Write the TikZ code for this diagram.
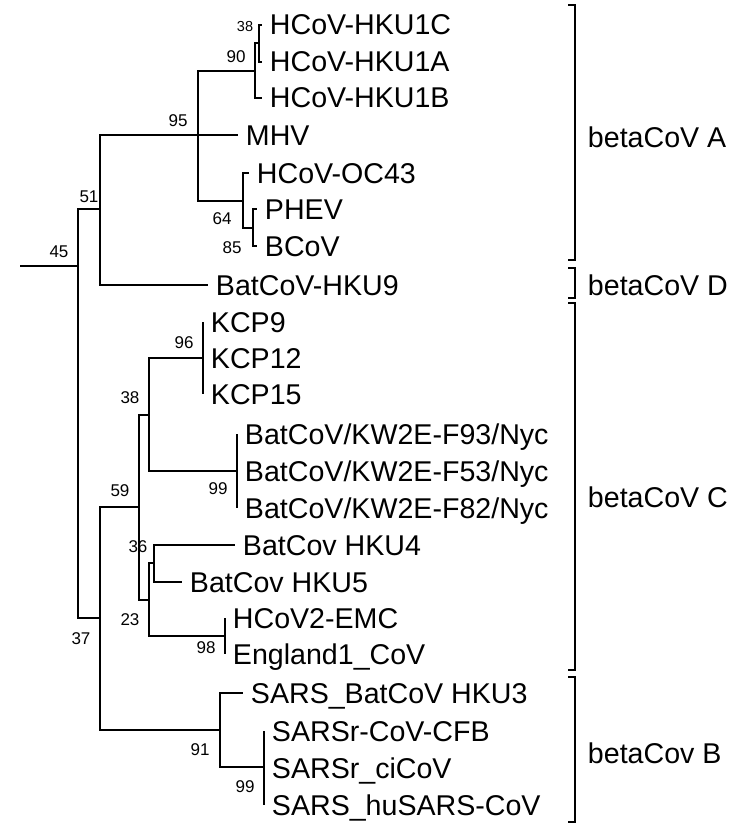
\documentclass[tikz,border=0pt]{standalone}
\usepackage{fontspec}
\setmainfont{Liberation Sans}
\begin{document}
\begin{tikzpicture}[x=1pt, y=-1pt, line width=1.9pt,
  leaf/.style={anchor=west, inner xsep=7pt, inner ysep=0pt, text height=20pt, text depth=0pt, font=\fontsize{28.6}{30}\selectfont},
  boot/.style={inner sep=0pt, font=\fontsize{17}{19}\selectfont},
  clade/.style={anchor=west, inner sep=0pt, text height=20pt, text depth=0pt, font=\fontsize{28.6}{30}\selectfont}]
\useasboundingbox (0,0) rectangle (750,840);
% inner nodes of the tree
\coordinate (root) at (20,266);
\coordinate (n45) at (78,266);
\coordinate (n51) at (100,209);
\coordinate (n95) at (198,135);
\coordinate (n90) at (255,71);
\coordinate (n38a) at (259,43);
\coordinate (n64) at (243,201);
\coordinate (n85) at (253,228);
\coordinate (n37) at (100,618);
\coordinate (n59) at (139,507);
\coordinate (n38b) at (149,415);
\coordinate (n96) at (203,358);
\coordinate (n99a) at (237,471);
\coordinate (n23) at (149,600);
\coordinate (n36) at (154,563);
\coordinate (n98) at (225,636);
\coordinate (n91) at (220,730);
\coordinate (n99b) at (264,767);
% leaves
\node[leaf] (hku1c) at (262,25) {HCoV-HKU1C};
\node[leaf] (hku1a) at (262,62) {HCoV-HKU1A};
\node[leaf] (hku1b) at (262,98) {HCoV-HKU1B};
\node[leaf] (mhv) at (238,135) {MHV};
\node[leaf] (oc43) at (249,173) {HCoV-OC43};
\node[leaf] (phev) at (257,209) {PHEV};
\node[leaf] (bcov) at (257,246) {BCoV};
\node[leaf] (hku9) at (208,285) {BatCoV-HKU9};
\node[leaf] (kcp9) at (203,322) {KCP9};
\node[leaf] (kcp12) at (203,358) {KCP12};
\node[leaf] (kcp15) at (203,394) {KCP15};
\node[leaf] (f93) at (237,434) {BatCoV/KW2E-F93/Nyc};
\node[leaf] (f53) at (237,471) {BatCoV/KW2E-F53/Nyc};
\node[leaf] (f82) at (237,508) {BatCoV/KW2E-F82/Nyc};
\node[leaf] (hku4) at (235,545) {BatCov HKU4};
\node[leaf] (hku5) at (182,582) {BatCov HKU5};
\node[leaf] (emc) at (225,618) {HCoV2-EMC};
\node[leaf] (eng) at (225,654) {England1\_CoV};
\node[leaf] (hku3) at (243,693) {SARS\_BatCoV HKU3};
\node[leaf] (cfb) at (264,731) {SARSr-CoV-CFB};
\node[leaf] (cicov) at (264,768) {SARSr\_ciCoV};
\node[leaf] (husars) at (264,805) {SARS\_huSARS-CoV};
% branches
\draw (root) -- (n45);
\foreach \p/\c in {n45/n51, n45/n37, n51/n95, n95/n90, n95/n64, n90/n38a, n64/n85,
    n37/n59, n37/n91, n59/n38b, n59/n23, n38b/n96, n38b/n99a, n23/n36, n23/n98, n91/n99b}
  \draw (\p) |- (\c);
\foreach \p/\c in {n51/hku9, n95/mhv, n90/hku1b, n38a/hku1c, n38a/hku1a, n64/oc43,
    n85/phev, n85/bcov, n96/kcp9, n96/kcp12, n96/kcp15, n99a/f93, n99a/f53, n99a/f82,
    n36/hku4, n36/hku5, n98/emc, n98/eng, n91/hku3, n99b/cfb, n99b/cicov, n99b/husars}
  \draw (\p) |- (\c.west);
% bootstrap values
\node[boot] (b45) at (59,252) {45};
\node[boot] (b51) at (89,197) {51};
\node[boot] (b95) at (178,121) {95};
\node[boot, font=\fontsize{14.5}{16}\selectfont] (b38a) at (245,27) {38};
\node[boot] (b90) at (236,57) {90};
\node[boot] (b64) at (222,219) {64};
\node[boot] (b85) at (232,248) {85};
\node[boot] (b37) at (81,639) {37};
\node[boot] (b59) at (120,491) {59};
\node[boot] (b38b) at (130,398) {38};
\node[boot] (b96) at (184,343) {96};
\node[boot] (b99a) at (218,489) {99};
\node[boot] (b36) at (138,547) {36};
\node[boot] (b23) at (130,620) {23};
\node[boot] (b98) at (206,648) {98};
\node[boot] (b91) at (200,750) {91};
\node[boot] (b99b) at (245,787) {99};
% clades
\draw (568,5) -| (575,260) -- (568,260);
\draw (568,268) -| (575,298) -- (568,298);
\draw (568,303) -| (575,670) -- (568,670);
\draw (568,677) -| (575,822) -- (568,822);
\node[clade] (ga) at (587,137) {betaCoV A};
\node[clade] (gd) at (587,285) {betaCoV D};
\node[clade] (gc) at (587,497) {betaCoV C};
\node[clade] (gb) at (587,753) {betaCov B};
\end{tikzpicture}
\end{document}
